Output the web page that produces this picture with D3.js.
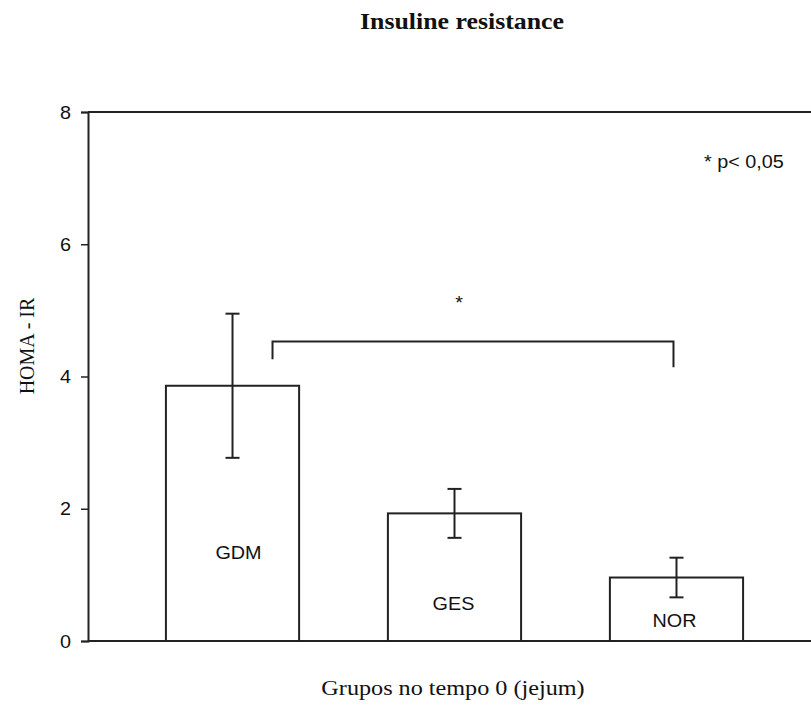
<!DOCTYPE html>
<html>
<head>
<meta charset="utf-8">
<script src="https://cdn.jsdelivr.net/npm/d3@7"></script>
<style>
  html, body { margin: 0; padding: 0; background: #fff; }
  svg { display: block; }
</style>
</head>
<body>
<svg id="chart" width="811" height="713"></svg>
<script>
// ---- data ----
const categories = ["GDM", "GES", "NOR"];
const means = [3.86, 1.93, 0.96];
const errors = [1.09, 0.37, 0.30];
const yTicks = [0, 2, 4, 6, 8];
const titleText = "Insuline resistance";
const xTitle = "Grupos no tempo 0 (jejum)";
const yTitle = "HOMA - IR";
const sigNote = "* p< 0,05";

(function () {
// ---- layout ----
const svg = d3.select("#chart");
const W = 811, H = 713;
const plotLeft = 88, plotTop = 112, plotBottom = 641;
const SX = 1.1; // horizontal stretch of the original picture's text

const y = d3.scaleLinear().domain([0, 8]).range([plotBottom, plotTop]);
const x = d3.scaleBand().domain(categories).range([plotLeft, 821])
  .paddingInner(0.4).paddingOuter(0.351);

const sans = "'Liberation Sans', Arial, sans-serif";
const serif = "'Liberation Serif', 'Times New Roman', serif";

function stretchedText(px, py, txt, opts) {
  const g = svg.append("g").attr("transform", `translate(${px},${py}) scale(${SX},1)`);
  return g.append("text").text(txt)
    .attr("x", 0).attr("y", 0)
    .attr("font-family", opts.family)
    .attr("font-size", opts.size)
    .attr("font-weight", opts.weight || "normal")
    .attr("text-anchor", opts.anchor || "middle")
    .attr("fill", "#111");
}

// frame lines (top and bottom extend to the right edge)
svg.append("line").attr("x1", plotLeft).attr("x2", W).attr("y1", plotTop).attr("y2", plotTop)
  .attr("stroke", "#222").attr("stroke-width", 2);
svg.append("line").attr("x1", plotLeft).attr("x2", W).attr("y1", plotBottom).attr("y2", plotBottom)
  .attr("stroke", "#222").attr("stroke-width", 2);

// y axis
const yAxis = d3.axisLeft(y).tickValues(yTicks).tickSize(7).tickFormat("");
const ya = svg.append("g").attr("transform", `translate(${plotLeft},0)`).call(yAxis);
ya.select(".domain").attr("stroke", "#222").attr("stroke-width", 2);
ya.selectAll(".tick line").attr("stroke", "#222").attr("stroke-width", 1.5);
yTicks.forEach(v => {
  stretchedText(71, y(v) + 6.5, d3.format("d")(v), {family: sans, size: 18, anchor: "end"});
});

// bars
svg.append("g").selectAll("rect").data(categories).join("rect")
  .attr("x", d => x(d))
  .attr("y", (d, i) => y(means[i]))
  .attr("width", x.bandwidth())
  .attr("height", (d, i) => y(0) - y(means[i]))
  .attr("fill", "#fff")
  .attr("stroke", "#222")
  .attr("stroke-width", 2);

// error bars
const cap = 7;
const eg = svg.append("g").attr("stroke", "#222").attr("stroke-width", 2);
categories.forEach((c, i) => {
  const cx = x(c) + x.bandwidth() / 2;
  const hi = y(means[i] + errors[i]), lo = y(means[i] - errors[i]);
  eg.append("line").attr("x1", cx).attr("x2", cx).attr("y1", hi).attr("y2", lo);
  eg.append("line").attr("x1", cx - cap).attr("x2", cx + cap).attr("y1", hi).attr("y2", hi);
  eg.append("line").attr("x1", cx - cap).attr("x2", cx + cap).attr("y1", lo).attr("y2", lo);
});

// bar labels (placed inside bars at heights in data units)
const labelAt = [1.24, 0.47, 0.21];
const labelDx = [6, -1, -2];
categories.forEach((c, i) => {
  stretchedText(x(c) + x.bandwidth() / 2 + labelDx[i], y(labelAt[i]), c, {family: sans, size: 18});
});

// significance bracket between GDM and NOR
const bx1 = x("GDM") + x.bandwidth() / 2 + 40;
const bx2 = x("NOR") + x.bandwidth() / 2 - 3;
const by = y(4.53);
svg.append("path")
  .attr("d", `M${bx1},${y(4.26)} V${by} H${bx2} V${y(4.14)}`)
  .attr("fill", "none").attr("stroke", "#222").attr("stroke-width", 2);
stretchedText(459, by - 32, "*", {family: sans, size: 18});

// note
stretchedText(704, 168, sigNote, {family: sans, size: 18, anchor: "start"});

// titles
stretchedText(462, 29, titleText, {family: serif, size: 23.5, weight: "bold"});
stretchedText(453, 695, xTitle, {family: serif, size: 22});
svg.append("text").text(yTitle)
  .attr("transform", `translate(34,346) rotate(-90)`)
  .attr("text-anchor", "middle")
  .attr("font-family", serif).attr("font-size", 20)
  .attr("fill", "#111");
})();
</script>
</body>
</html>
